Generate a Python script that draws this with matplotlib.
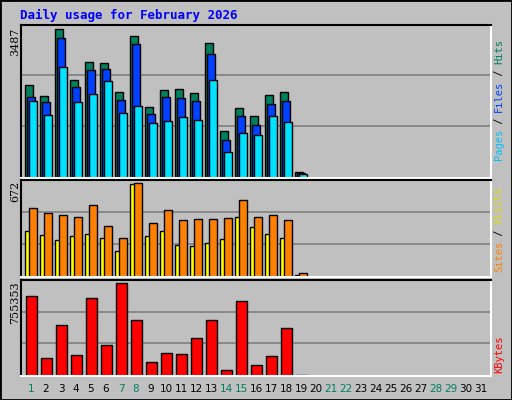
import matplotlib
matplotlib.use("Agg")
import matplotlib.pyplot as plt
import numpy as np

days = list(range(1, 32))
hits = [2185,1933,3487,2304,2730,2706,2020,3345,1665,2067,2091,1996,3179,1097,1641,1452,1949,2020,134]
files = [1909,1783,3298,2138,2540,2564,1830,3156,1499,1909,1878,1807,2919,884,1452,1239,1736,1807,118]
pages = [1807,1475,2611,1783,1972,2280,1523,1688,1286,1333,1428,1357,2304,600,1049,1002,1452,1310,103]
visits = [328,298,262,291,306,277,182,662,291,328,226,218,240,269,429,357,306,277,15]
sites = [495,459,444,429,517,364,277,672,386,480,408,415,415,422,553,429,444,408,29]
kbytes = [647848,143354,416277,168165,631307,250869,755353,457629,110272,184706,176435,308762,457629,52379,606496,85461,159894,391466,8270]
weekend_days = [1,7,8,14,15,21,22,28,29]

W, H = 512, 400
fig = plt.figure(figsize=(W/100, H/100), dpi=100)
fig.patch.set_facecolor("#C0C0C0")
fig.patches.append(plt.Rectangle((0,0),1,1,transform=fig.transFigure,fill=False,edgecolor="black",lw=2))

def ax_px(x0, y0, x1, y1):
    return fig.add_axes([x0/W, 1-y1/H, (x1-x0)/W, (y1-y0)/H])

XL = (1-(31-21)/15, 31+(491-481)/15)
px = 1/15.0
mono = "DejaVu Sans Mono"

def style(ax, vmax):
    ax.set_facecolor("#C0C0C0")
    ax.set_xlim(*XL)
    top = vmax*1.03
    ax.set_ylim(0, top)
    for f in (0.34, 0.67):
        ax.axhline(vmax*f*1.0/1.0*1.0 if False else top*f, color="#808080", lw=1.2, zorder=0)
    ax.set_xticks([]); ax.set_yticks([])
    for s in ("left","top"):
        ax.spines[s].set_color("black"); ax.spines[s].set_linewidth(1.5)
    for s in ("right","bottom"):
        ax.spines[s].set_color("white"); ax.spines[s].set_linewidth(1.5)

n = len(hits)
x = np.arange(1, n+1)
kw = dict(edgecolor="black", linewidth=1, align="edge")

a1 = ax_px(21, 25, 491, 178)
style(a1, max(hits))
a1.bar(x-6*px, hits, 8*px, color="#00805C", **kw)
a1.bar(x-4*px, files, 8*px, color="#0040FF", **kw)
a1.bar(x-2*px, pages, 8*px, color="#00E0FF", **kw)

a2 = ax_px(21, 180, 491, 277)
style(a2, max(sites))
a2.bar(x-6*px, visits, 5*px, color="#FFFF00", **kw)
a2.bar(x-2*px, sites, 8*px, color="#FF8000", **kw)

a3 = ax_px(21, 280, 491, 376)
style(a3, max(kbytes))
a3.bar(x-5*px, kbytes, 11*px, color="#FF0000", **kw)

fig.text(20/W, 1-15/H, "Daily usage for February 2026", color="#0000FF", fontsize=9,
         fontweight="bold", family=mono, va="center", ha="left")

def lbl(y, s):
    fig.text(15/W, 1-y/H, s, rotation=90, fontsize=8, family="DejaVu Serif", ha="center", va="top")
lbl(28, str(max(hits))); lbl(181, str(max(sites))); lbl(281, str(max(kbytes)))

def rlabel(ycenter, parts):
    total = sum(len(p) for p,_ in parts)
    ch = 6.0
    ypos = ycenter + total*ch/2
    for p, c in parts:
        fig.text(499/W, 1-ypos/H, p, rotation=90, color=c, fontsize=7.5, family=mono,
                 ha="center", va="bottom")
        ypos -= len(p)*ch
rlabel(100, [("Pages","#00C0FF"),(" / ","black"),("Files","#0040FF"),(" / ","black"),("Hits","#00805C")])
rlabel(230, [("Sites","#FF8000"),(" / ","black"),("Visits","#E0E000")])
rlabel(355, [("KBytes","#FF0000")])

for d in days:
    xp = 21 + (d-XL[0])/(XL[1]-XL[0])*470
    fig.text(xp/W, 1-389/H, str(d), ha="center", va="center", fontsize=7.5,
             color="#00805C" if d in weekend_days else "black", family="DejaVu Sans")

fig.savefig("out.png", dpi=100, facecolor=fig.get_facecolor())
